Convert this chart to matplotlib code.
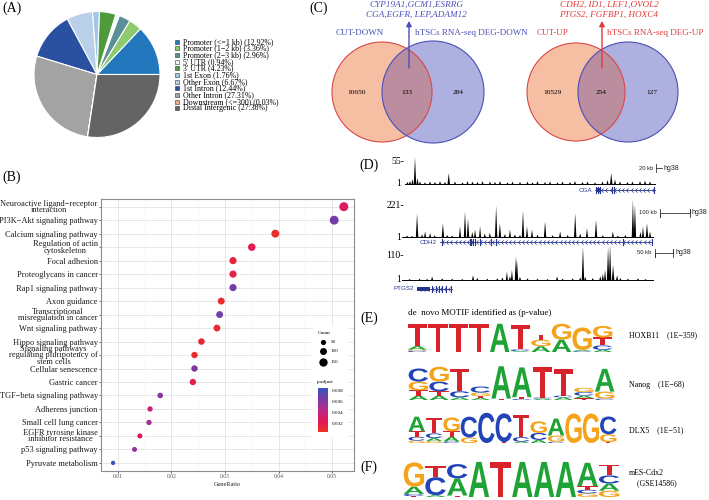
import matplotlib
matplotlib.use("Agg")
import matplotlib.pyplot as plt
import numpy as np
from matplotlib.patches import Circle, PathPatch, Rectangle, FancyArrowPatch
from matplotlib.path import Path
from matplotlib.textpath import TextPath
from matplotlib.font_manager import FontProperties
from matplotlib.transforms import Affine2D
from matplotlib.colors import LinearSegmentedColormap, Normalize
import matplotlib.colorbar as mcolorbar

plt.rcParams["font.family"] = ["Liberation Serif", "DejaVu Serif"]

# ---------------- data ----------------
# (A) peak annotation
feature_labels = ["Promoter (<=1 kb) (12.92%)", "Promoter (1\u22122 kb) (3.36%)",
                  "Promoter (2\u22123 kb) (2.96%)", "5' UTR (0.94%)", "3' UTR (4.23%)",
                  "1st Exon (1.76%)", "Other Exon (6.67%)", "1st Intron (12.44%)",
                  "Other Intron (27.31%)", "Downstream (<=300) (0.03%)",
                  "Distal Intergenic (27.38%)"]
feature_pct = [12.92, 3.36, 2.96, 0.94, 4.23, 1.76, 6.67, 12.44, 27.31, 0.03, 27.38]
feature_colors = ["#2377BC", "#8DCB6F", "#5B8E96", "#F7F7F7", "#4F9A3A", "#9EC8E8",
                  "#B9D0E8", "#2A50A0", "#A3A3A3", "#F2A98C", "#646464"]

# (B) KEGG enrichment
terms = ["Neuroactive ligand\u2212receptor\ninteraction", "PI3K\u2212Akt signaling pathway",
         "Calcium signaling pathway", "Regulation of actin\ncytoskeleton", "Focal adhesion",
         "Proteoglycans in cancer", "Rap1 signaling pathway", "Axon guidance",
         "Transcriptional\nmisregulation in cancer", "Wnt signaling pathway",
         "Hippo signaling pathway", "Signaling pathways\nregulating pluripotency of\nstem cells",
         "Cellular senescence", "Gastric cancer", "TGF\u2212beta signaling pathway",
         "Adherens junction", "Small cell lung cancer", "EGFR tyrosine kinase\ninhibitor resistance",
         "p53 signaling pathway", "Pyruvate metabolism"]
gene_ratio = [0.0522, 0.0504, 0.0394, 0.0350, 0.0315, 0.0315, 0.0315, 0.0293, 0.0290, 0.0285,
              0.0256, 0.0243, 0.0243, 0.0240, 0.0179, 0.0160, 0.0158, 0.0141, 0.0131, 0.0091]
counts = [178, 172, 134, 119, 107, 107, 107, 100, 99, 97, 87, 83, 83, 82, 61, 54, 54, 48, 45, 31]
p_adjust = [0.0028, 0.0066, 0.0008, 0.0022, 0.0014, 0.0017, 0.0066, 0.0009, 0.0068, 0.0010,
            0.0013, 0.0009, 0.0063, 0.0019, 0.0060, 0.0038, 0.0050, 0.0024, 0.0058, 0.0086]

# (C) Venn counts
venn_down = [10650, 133, 284]
venn_up = [10529, 254, 127]
genes_down = ["CYP19A1,GCM1,ESRRG", "CGA,EGFR, LEP,ADAM12"]
genes_up = ["CDH2, ID1, LEF1,OVOL2", "PTGS2, FGFBP1, HOXC4"]

# (D) CUT&Tag tracks: (position in window 0-1, signal)
track1_max = 55
track1_peaks = [(0.01, 4), (0.02, 6), (0.03, 10), (0.04, 55), (0.05, 12), (0.06, 5), (0.08, 3),
                (0.10, 5), (0.12, 4), (0.14, 6), (0.16, 4), (0.175, 22), (0.20, 5), (0.23, 3),
                (0.25, 6), (0.27, 5), (0.29, 4), (0.31, 6), (0.34, 5), (0.36, 4), (0.38, 6),
                (0.41, 3), (0.43, 5), (0.46, 4), (0.49, 5), (0.51, 3), (0.53, 6), (0.56, 4),
                (0.58, 5), (0.61, 3), (0.63, 5), (0.66, 4), (0.68, 6), (0.71, 4), (0.73, 5),
                (0.76, 3), (0.79, 5), (0.81, 8), (0.825, 22), (0.84, 9), (0.86, 5), (0.89, 4),
                (0.91, 5), (0.94, 6), (0.96, 7), (0.98, 5)]
track2_max = 221
track2_peaks = [(0.02, 8), (0.04, 6), (0.06, 141), (0.08, 15), (0.092, 33), (0.112, 22),
                (0.13, 10), (0.163, 82), (0.18, 12), (0.20, 8), (0.231, 64), (0.251, 152),
                (0.263, 110), (0.28, 30), (0.291, 44), (0.311, 64), (0.33, 20), (0.35, 25),
                (0.375, 186), (0.39, 82), (0.41, 18), (0.43, 44), (0.45, 15), (0.47, 12),
                (0.482, 157), (0.498, 64), (0.518, 44), (0.54, 14), (0.57, 93), (0.60, 10),
                (0.63, 33), (0.66, 12), (0.69, 141), (0.71, 20), (0.737, 53), (0.773, 102),
                (0.80, 10), (0.84, 33), (0.86, 8), (0.89, 12), (0.92, 221), (0.928, 192),
                (0.95, 30), (0.96, 64), (0.976, 82), (0.988, 33)]
track3_max = 110
track3_peaks = [(0.03, 3), (0.07, 4), (0.10, 3), (0.12, 11), (0.16, 5), (0.20, 4), (0.24, 3),
                (0.283, 15), (0.30, 6), (0.34, 4), (0.38, 5), (0.40, 8), (0.418, 26), (0.43, 12),
                (0.438, 32), (0.454, 74), (0.458, 63), (0.47, 10), (0.50, 5), (0.54, 4),
                (0.58, 3), (0.618, 11), (0.64, 4), (0.68, 5), (0.71, 8), (0.721, 105),
                (0.73, 10), (0.76, 6), (0.79, 12), (0.80, 20), (0.809, 32), (0.821, 105),
                (0.829, 110), (0.841, 47), (0.857, 15), (0.87, 6), (0.90, 4), (0.94, 5), (0.97, 3)]
track_max_labels = ["55-", "221-", "110-"]
scale_labels = ["20 kb", "100 kb", "50 kb"]
gene_names = ["CGA", "CDH2", "PTGS2"]
cga_span, cga_exons = (0.76, 1.0), [0.765, 0.772, 0.78, 0.828, 0.834, 0.995]
cdh2_span, cdh2_exons = (0.151, 0.996), [0.159, 0.27, 0.275, 0.283, 0.291, 0.31, 0.355, 0.375, 0.88, 0.996]
ptgs2_span, ptgs2_exons = (0.06, 0.20), [0.12, 0.135, 0.147, 0.16, 0.175, 0.195]

# (E)/(F) motifs: columns, letters listed bottom -> top with height in bits
hoxb11_cols = [[("C", .08), ("G", .08), ("A", .25), ("T", 1.5)], [("T", 1.95)], [("T", 1.95)],
               [("T", 1.95)], [("A", 1.95)], [("A", .06), ("C", .12), ("T", 1.65)],
               [("A", .4), ("G", .45), ("T", .35)], [("A", .85), ("G", 1.1)],
               [("C", .06), ("A", .08), ("G", 1.55)], [("A", .15), ("C", .3), ("T", .55), ("G", .8)]]
nanog_cols = [[("A", .25), ("T", .3), ("G", .5), ("C", .75)],
              [("A", .25), ("T", .25), ("C", .55), ("G", .85)],
              [("A", .15), ("C", .35), ("T", 1.3)], [("A", .12), ("T", .1), ("G", .2), ("C", .35)],
              [("T", .08), ("A", 1.85)], [("C", .06), ("T", .1), ("A", 1.7)],
              [("A", .08), ("C", .06), ("T", 1.75)], [("A", .15), ("C", .1), ("T", 1.5)],
              [("T", .1), ("A", .15), ("C", .2), ("G", .25)], [("C", .08), ("G", .4), ("A", 1.3)]]
dlx5_cols = [[("G", .15), ("C", .25), ("T", .35), ("A", .95)],
             [("G", .12), ("A", .2), ("C", .3), ("T", 1.0)],
             [("C", .1), ("A", .3), ("T", .35), ("G", .9)], [("G", .35), ("C", 1.35)],
             [("C", 1.95)], [("T", .06), ("C", 1.85)], [("A", .08), ("C", .3), ("T", 1.45)],
             [("A", .2), ("C", .45), ("G", .75)], [("C", .08), ("G", .4), ("A", 1.1)],
             [("G", 1.9)], [("G", 1.9)], [("T", .06), ("G", .5), ("C", 1.15)]]
cdx2_cols = [[("T", .05), ("C", .12), ("A", .4), ("G", 1.35)], [("A", .1), ("C", 1.0), ("T", .6)],
             [("T", .08), ("A", .95), ("C", .8)], [("A", 1.95)], [("T", 1.95)], [("A", 1.95)],
             [("A", 1.95)], [("A", 1.95)], [("G", .2), ("C", .2), ("T", .2), ("A", 1.3)],
             [("G", .35), ("A", .4), ("C", .45), ("T", .6)]]
motif_names = ["HOXB11\u3000(1E\u2212359)", "Nanog\u3000(1E\u221268)", "DLX5\u3000(1E\u221251)",
               "mES-Cdx2\n\u3000(GSE14586)"]

# ---------------- figure ----------------
W, H = 709, 500
fig = plt.figure(figsize=(7.09, 5.0), dpi=100)


def fx(px):
    return px / W


def fy(py):
    return 1 - py / H


# (A) pie
ax_pie = fig.add_axes([fx(34), fy(137.5), 126 / W, 126 / H])
ax_pie.pie(feature_pct, colors=feature_colors, startangle=0, counterclock=True,
           wedgeprops=dict(edgecolor="white", linewidth=0.8))
ax_pie.set_xlim(-1, 1)
ax_pie.set_ylim(-1, 1)
ax_pie.set_aspect("equal")

# (B) dot plot
cmap = LinearSegmentedColormap.from_list(
    "padj", ["#EA3323", "#E0185A", "#B82A8E", "#7A3AA4", "#3557B8"])
norm = Normalize(0.0005, 0.0085)
ax_b = fig.add_axes([fx(101), fy(471), (354 - 101) / W, (471 - 198.6) / H])
ys = np.arange(len(terms))
ax_b.scatter(gene_ratio, ys, s=3 + 0.22 * np.array(counts), c=p_adjust, cmap=cmap, norm=norm,
             linewidths=0, zorder=3)
ax_b.set_xlim(0.00684, 0.0541)
ax_b.set_ylim(len(terms) - 0.4, -0.6)
ax_b.set_xticks([0.01, 0.02, 0.03, 0.04, 0.05])
ax_b.set_xticklabels(["0.01", "0.02", "0.03", "0.04", "0.05"])
ax_b.set_xticks([0.015, 0.025, 0.035, 0.045], minor=True)
ax_b.set_yticks(ys)
ax_b.set_yticklabels(terms)
for lab in ax_b.get_yticklabels():
    lab.set_multialignment("center")
    lab.set_linespacing(0.75)
ax_b.grid(which="major", color="#E3E3E3", linewidth=0.6)
ax_b.grid(which="minor", axis="x", color="#F0F0F0", linewidth=0.4)
ax_b.set_axisbelow(True)
ax_b.tick_params(axis="y", labelsize=6, length=1.5, pad=0.8, width=0.5, colors="#333333",
                 labelcolor="#1a1a1a")
ax_b.tick_params(axis="x", which="major", labelsize=4, length=1.5, pad=1, width=0.5,
                 colors="#333333", labelcolor="#4D4D4D")
ax_b.tick_params(axis="x", which="minor", length=0)
for sp in ax_b.spines.values():
    sp.set_color("#8C8C8C")
    sp.set_linewidth(0.8)
ax_b.set_xlabel("GeneRatio", fontsize=4.5, labelpad=1.5, color="#222222")

# overlay in pixel coordinates
ov = fig.add_axes([0, 0, 1, 1], zorder=5)
ov.set_xlim(0, W)
ov.set_ylim(H, 0)
ov.axis("off")

# panel letters
for lab, x, y in [("(A)", 12, 8), ("(B)", 12, 177), ("(C)", 319, 8), ("(D)", 369, 165),
                  ("(E)", 369, 318), ("(F)", 369, 467)]:
    ov.text(x, y, lab, fontsize=10, ha="center", va="center")

# pie legend
for i, (lab, col) in enumerate(zip(feature_labels, feature_colors)):
    yy = 41.7 + i * 6.67
    ov.add_patch(Rectangle((175, yy - 2), 4, 4, fc=col, ec="#333333", lw=0.4))
    ov.text(183, yy, lab, fontsize=5.7, va="center", ha="left")

# B legends
ov.add_patch(Rectangle((313, 326), 36, 112, fc="white", ec="none"))
ov.text(318, 333, "Count", fontsize=3.8, va="center")
for val, yy in zip([50, 100, 150], [341.7, 350.7, 361.7]):
    ov.scatter([322.7], [yy], s=3 + 0.22 * val, c="black", linewidths=0)
    ov.text(331, yy, str(val), fontsize=3.6, va="center")
ov.text(317, 382, "p.adjust", fontsize=3.8, va="center")
cax = fig.add_axes([fx(318), fy(432), 10 / W, 44 / H], zorder=6)
cb = mcolorbar.ColorbarBase(cax, cmap=cmap, norm=norm, ticks=[0.002, 0.004, 0.006, 0.008])
cb.outline.set_visible(False)
cb.ax.tick_params(labelsize=3.6, length=1.5, width=0.4, color="white", pad=1)
cb.ax.set_yticklabels(["0.002", "0.004", "0.006", "0.008"])


# (C) Venn diagrams
def venn(cx1, cx2, cy, r1, r2, nums, col_txt, lab_l, lab_r, genes, arrow_x, lab_lx, lab_rx):
    orange = Circle((cx1, cy), r1, fc="#F6BFA3", ec="none")
    blue = Circle((cx2, cy), r2, fc="#AEB0DF", ec="none")
    ov.add_patch(orange)
    ov.add_patch(blue)
    inter = Circle((cx2, cy), r2, fc="#BA8E9E", ec="none")
    ov.add_patch(inter)
    inter.set_clip_path(Circle((cx1, cy), r1, transform=ov.transData))
    ov.add_patch(Circle((cx1, cy), r1, fc="none", ec="#D9484A", lw=0.8))
    ov.add_patch(Circle((cx2, cy), r2, fc="none", ec="#4B4FB8", lw=0.8))
    left_only = cx1 - r1 + (cx2 - r2 - (cx1 - r1)) / 2
    mid = (cx2 - r2 + cx1 + r1) / 2
    right_only = (cx1 + r1 + cx2 + r2) / 2
    for v, x in zip(nums, [left_only, mid, right_only]):
        ov.text(x, cy + 1, str(v), fontsize=5.3, ha="center", va="center")
    ov.text(lab_lx, 33, lab_l, fontsize=6.5, color=col_txt, ha="center", va="center")
    ov.text(lab_rx, 33, lab_r, fontsize=6.5, color=col_txt, ha="center", va="center")
    ov.add_patch(FancyArrowPatch((arrow_x, 68), (arrow_x, 21), arrowstyle="-|>,head_length=3,head_width=1.6",
                                 color=col_txt, lw=1.0, shrinkA=0, shrinkB=0))
    ov.text(arrow_x + 7, 5, genes[0], fontsize=6.6, style="italic", color=col_txt, ha="center", va="center")
    ov.text(arrow_x + 7, 14.5, genes[1], fontsize=6.6, style="italic", color=col_txt, ha="center", va="center")


venn(382, 433, 92, 50, 51, venn_down, "#4B4FB8", "CUT-DOWN", "hTSCs RNA-seq DEG-DOWN",
     genes_down, 409, 360, 471)
venn(576, 628, 92, 49, 50, venn_up, "#E23B3B", "CUT-UP", "hTSCs RNA-seq DEG-UP",
     genes_up, 602, 553, 655)

# (D) tracks
navy = "#26358F"
tracks = [
    (track1_peaks, track1_max, 405, 655, 184, 27, 162),
    (track2_peaks, track2_max, 402, 653, 237, 37, 205),
    (track3_peaks, track3_max, 402, 653, 280, 35, 256),
]
for (peaks, vmax, x0, x1, base, th, ylab), mlab in zip(tracks, track_max_labels):
    for pos, val in peaks:
        xc = x0 + pos * (x1 - x0)
        hpx = val / vmax * th
        hw = 1.2 if val / vmax > 0.3 else 1.0
        ov.fill([xc - hw, xc, xc + hw], [base, base - hpx, base], color="black", lw=0)
    ov.plot([x0, x1], [base, base], color="black", lw=0.7)
    ov.text(404, ylab, mlab, fontsize=7, ha="right", va="center")
    ov.text(401, base, "1", fontsize=7, ha="right", va="center")

sans = ["Liberation Sans", "DejaVu Sans"]
# scale bars
ov.text(653, 168, scale_labels[0], fontsize=4.2, family=sans, ha="right", va="center", color="#222222")
ov.plot([656, 656], [164, 172], color="#333333", lw=0.6)
ov.plot([656, 662], [168, 168], color="#333333", lw=0.6)
ov.text(663, 168, "hg38", fontsize=5, family=sans, ha="left", va="center", color="#222222")
ov.text(657, 213, scale_labels[1], fontsize=4.2, family=sans, ha="right", va="center", color="#222222")
ov.plot([660, 660, 660, 690, 690, 690], [209, 217, 213, 213, 209, 217], color="#333333", lw=0.6)
ov.text(692, 213, "hg38", fontsize=5, family=sans, ha="left", va="center", color="#222222")
ov.text(651, 253, scale_labels[2], fontsize=4.2, family=sans, ha="right", va="center", color="#222222")
ov.plot([655, 655, 655, 673, 673, 673], [249, 257, 253, 253, 249, 257], color="#333333", lw=0.6)
ov.text(675, 253, "hg38", fontsize=5, family=sans, ha="left", va="center", color="#222222")

chev = Path([(0.5, 1.0), (-0.5, 0.0), (0.5, -1.0)], [Path.MOVETO, Path.LINETO, Path.LINETO])


def gene_model(span, exons, x0, x1, y, name, thick=None):
    xa, xb = x0 + span[0] * (x1 - x0), x0 + span[1] * (x1 - x0)
    ov.plot([xa, xb], [y, y], color=navy, lw=0.6)
    cx = np.arange(xa + 3, xb - 1, 4.2)
    ov.plot(cx, [y] * len(cx), ls="none", marker=chev, ms=3, mfc="none", mec=navy, mew=0.5)
    for e in exons:
        xe = x0 + e * (x1 - x0)
        ov.plot([xe, xe], [y - 3, y + 3], color=navy, lw=0.8)
    if thick is not None:
        ta, tb = x0 + thick[0] * (x1 - x0), x0 + thick[1] * (x1 - x0)
        ov.add_patch(Rectangle((ta, y - 2), tb - ta, 4, fc=navy, ec="none"))
    ov.text(xa - 3, y, name, fontsize=4.5, family=sans, color=navy, ha="right", va="center")


gene_model(cga_span, cga_exons, 405, 655, 190, gene_names[0], thick=(0.762, 0.782))
gene_model(cdh2_span, cdh2_exons, 402, 653, 242, gene_names[1])
gene_model(ptgs2_span, ptgs2_exons, 402, 653, 289, gene_names[2], thick=(0.06, 0.112))

# (E)/(F) motif logos
letter_colors = {"A": "#1FA336", "C": "#2144B8", "G": "#F5A31A", "T": "#D8232A"}
logo_font = FontProperties(family=["Liberation Sans", "DejaVu Sans"], weight="bold")
glyphs = {}
for ch in "ACGT":
    p = TextPath((0, 0), ch, size=1, prop=logo_font)
    glyphs[ch] = (p, p.get_extents())


def draw_logo(cols, x0, x1, base, bit_h):
    cw = (x1 - x0) / len(cols)
    for i, col in enumerate(cols):
        y = base
        for ch, h in col:
            hh = h * bit_h
            p, bb = glyphs[ch]
            tr = (Affine2D().translate(-bb.x0, -bb.y0)
                  .scale(cw * 0.94 / bb.width, -hh / bb.height)
                  .translate(x0 + i * cw + cw * 0.03, y))
            ov.add_patch(PathPatch(tr.transform_path(p), fc=letter_colors[ch], ec="none"))
            y -= hh


ov.text(408, 313, "de  novo MOTIF identified as (p-value)", fontsize=6.5, ha="left", va="center")
draw_logo(hoxb11_cols, 407, 613, 352, 14.5)
draw_logo(nanog_cols, 408, 615, 400, 17.5)
draw_logo(dlx5_cols, 408, 617, 443, 15.5)
draw_logo(cdx2_cols, 403, 620, 497, 18)
name_fam = ["Liberation Serif", "Noto Sans CJK SC", "DejaVu Serif"]
for name, yy in zip(motif_names, [335, 385, 430, 478]):
    ov.text(629, yy, name, fontsize=5.7, family=name_fam, ha="left", va="center", linespacing=1.3)

fig.savefig("out.png", dpi=100)
